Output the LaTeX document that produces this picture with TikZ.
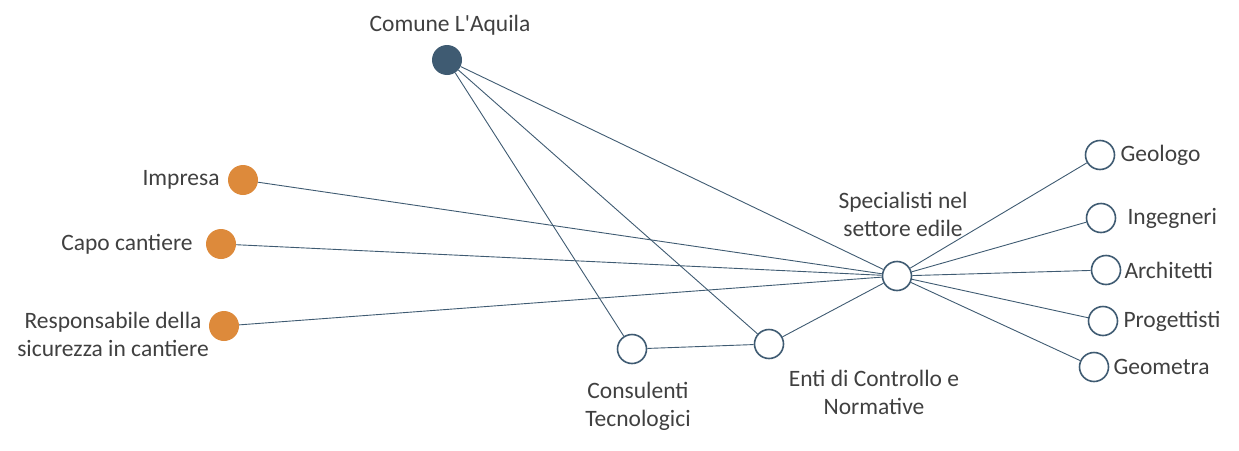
\documentclass[tikz,border=0pt]{standalone}
\usepackage{fontspec}
\setmainfont{Carlito}
\usepackage{tikz}
\usetikzlibrary{positioning}
\usepackage{xcolor}
\definecolor{nwSlate}{HTML}{3F5B72}
\definecolor{nwOrange}{HTML}{DD8A3B}
\definecolor{nwText}{HTML}{404040}
\tikzset{
  dotD/.style={circle, fill=nwSlate, draw=none, minimum size=30pt, inner sep=0pt},
  dotO/.style={circle, fill=nwOrange, draw=none, minimum size=30pt, inner sep=0pt},
  dotW/.style={circle, fill=white, draw=nwSlate, line width=1.6pt, minimum size=29pt, inner sep=0pt},
  lbl/.style={text=nwText, font=\fontsize{23.5}{28}\selectfont, inner sep=0pt, align=center},
  lnk/.style={draw=nwSlate, line width=0.9pt},
}
\begin{document}
\begin{tikzpicture}[x=1pt, y=-1pt]
            \useasboundingbox (0,0) rectangle (1239,450);
            % nodes
            \node[dotD] (com) at (447,60) {};
            \node[dotO] (imp) at (243,180) {};
            \node[dotO] (capo) at (221,244) {};
            \node[dotO] (resp) at (224,326) {};
            \node[dotW] (cons) at (632,349) {};
            \node[dotW] (enti) at (769,344) {};
            \node[dotW] (spec) at (897,276) {};
            \node[dotW] (geol) at (1100,155) {};
            \node[dotW] (ing) at (1101,218) {};
            \node[dotW] (arch) at (1106,270) {};
            \node[dotW] (prog) at (1103,321) {};
            \node[dotW] (geom) at (1094,367) {};
            % labels
            \node[lbl] (comL) at (450,25) {Comune L\textquotesingle Aquila};
            \node[lbl, left=8pt of imp] (impL) {Impresa};
            \node[lbl, left=13pt of capo] (capoL) {Capo cantiere};
            \node[lbl] (respL) at (113,334) {Responsabile della\\sicurezza in cantiere};
            \node[lbl] (specL) at (903,214) {Specialisti nel\\settore edile};
            \node[lbl] (consL) at (638,406) {Consulenti\\Tecnologici};
            \node[lbl] (entiL) at (874,392) {Enti di Controllo e\\Normative};
            \node[lbl, right=5pt of geol] (geolL) {Geologo};
            \node[lbl, right=11pt of ing] (ingL) {Ingegneri};
            \node[lbl, right=3pt of arch] (archL) {Architetti};
            \node[lbl, right=5pt of prog] (progL) {Progettisti};
            \node[lbl, right=4pt of geom] (geomL) {Geometra};
            % links
            \draw[lnk] (com) -- (spec); \draw[lnk] (com) -- (enti); \draw[lnk] (com) -- (cons);
            \draw[lnk] (imp) -- (spec); \draw[lnk] (capo) -- (spec); \draw[lnk] (resp) -- (spec);
            \draw[lnk] (cons) -- (enti); \draw[lnk] (enti) -- (spec);
            \foreach \t in {geol,ing,arch,prog,geom} \draw[lnk] (spec) -- (\t);
        \end{tikzpicture}
\end{document}
